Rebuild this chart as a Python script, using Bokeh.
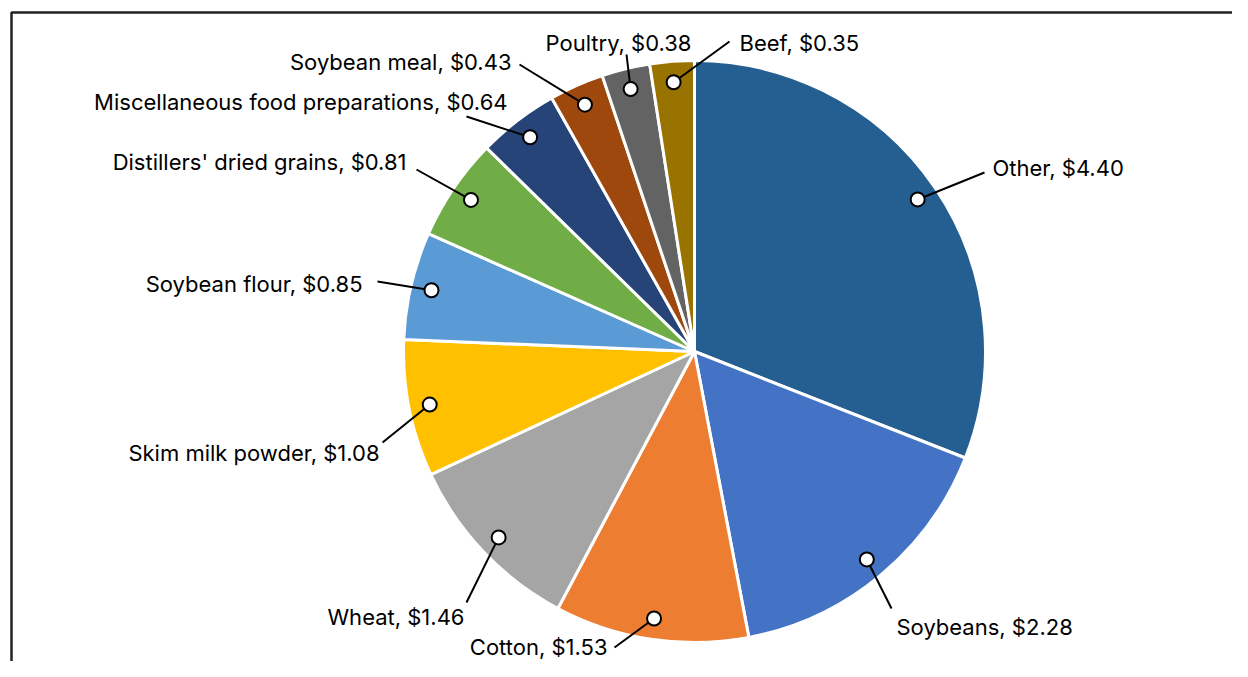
import numpy as np
from bokeh.plotting import figure
from bokeh.models import Range1d, ColumnDataSource, BoxAnnotation
from bokeh.embed import file_html
from bokeh.resources import INLINE
from bokeh.core.properties import value

categories = ["Other", "Soybeans", "Cotton", "Wheat", "Skim milk powder",
              "Soybean flour", "Distillers' dried grains",
              "Miscellaneous food preparations", "Soybean meal", "Poultry", "Beef"]
values = [4.40, 2.28, 1.53, 1.46, 1.08, 0.85, 0.81, 0.64, 0.43, 0.38, 0.35]
colors = ["#255E91", "#4472C4", "#ED7D31", "#A5A5A5", "#FFC000", "#5B9BD5",
          "#70AD47", "#264478", "#9E480E", "#636363", "#997300"]

# label layout (page pixel positions)
label_x = [993, 897, 608, 465, 380, 363, 407, 508, 512, 619, 740]
label_y = [168, 627, 647, 617, 453, 284, 162, 102, 62, 43, 43]
label_align = ["left", "left", "right", "right", "right", "right", "right",
               "right", "right", "center", "left"]
leader_x = [985, 892, 615, 467, 383, 378, 417, 467, 520, 627, 730]
leader_y = [173, 609, 648, 603, 443, 282, 170, 117, 65, 55, 42]

W, H = 1232, 661
X0, Y0 = 1, 1          # observed page offset of the canvas
PAGE_H = Y0 + H
CX, CY, R = 695, 352, 291
MARK_R = 0.928 * R


def yd(Y):
    return PAGE_H - np.asarray(Y, dtype=float) + Y0


vals = np.array(values)
total = vals.sum()
cum = np.concatenate([[0], np.cumsum(vals)])
start = np.pi / 2 - 2 * np.pi * cum[:-1] / total
end = np.pi / 2 - 2 * np.pi * cum[1:] / total
mid = (start + end) / 2

mx = CX + MARK_R * np.cos(mid)
my = yd(CY) + MARK_R * np.sin(mid)

texts = [f"{c}, ${v:.2f}" for c, v in zip(categories, values)]

p = figure(width=W, height=H, x_range=Range1d(X0, X0 + W), y_range=Range1d(Y0, Y0 + H),
           output_backend="svg", toolbar_location=None, x_axis_type=None,
           y_axis_type=None, min_border=0, outline_line_color=None,
           background_fill_color="white", border_fill_color="white")
p.grid.visible = False

frame = BoxAnnotation(left=12, right=5000, top=float(yd(13)), bottom=-5000,
                      fill_alpha=0, line_color="#222222", line_alpha=1.0,
                      line_width=2.5)
p.add_layout(frame)

src = ColumnDataSource(dict(start=start, end=end, color=colors))
p.wedge(x=CX, y=float(yd(CY)), radius=R, start_angle="start", end_angle="end",
        direction="clock", fill_color="color", line_color="white", line_width=3,
        source=src)

p.segment(x0=mx, y0=my, x1=leader_x, y1=yd(leader_y), line_color="black",
          line_width=2)
p.scatter(x=mx, y=my, size=14, marker="circle", fill_color="white",
          line_color="black", line_width=2)

tsrc = ColumnDataSource(dict(x=label_x, y=yd(label_y), text=texts, align=label_align))
p.text(x="x", y="y", text="text", text_align="align", text_baseline="middle",
       text_font=value("Inter"), text_font_size="22px", text_color="#000000",
       source=tsrc)

open("out.html", "w").write(file_html(p, INLINE))
